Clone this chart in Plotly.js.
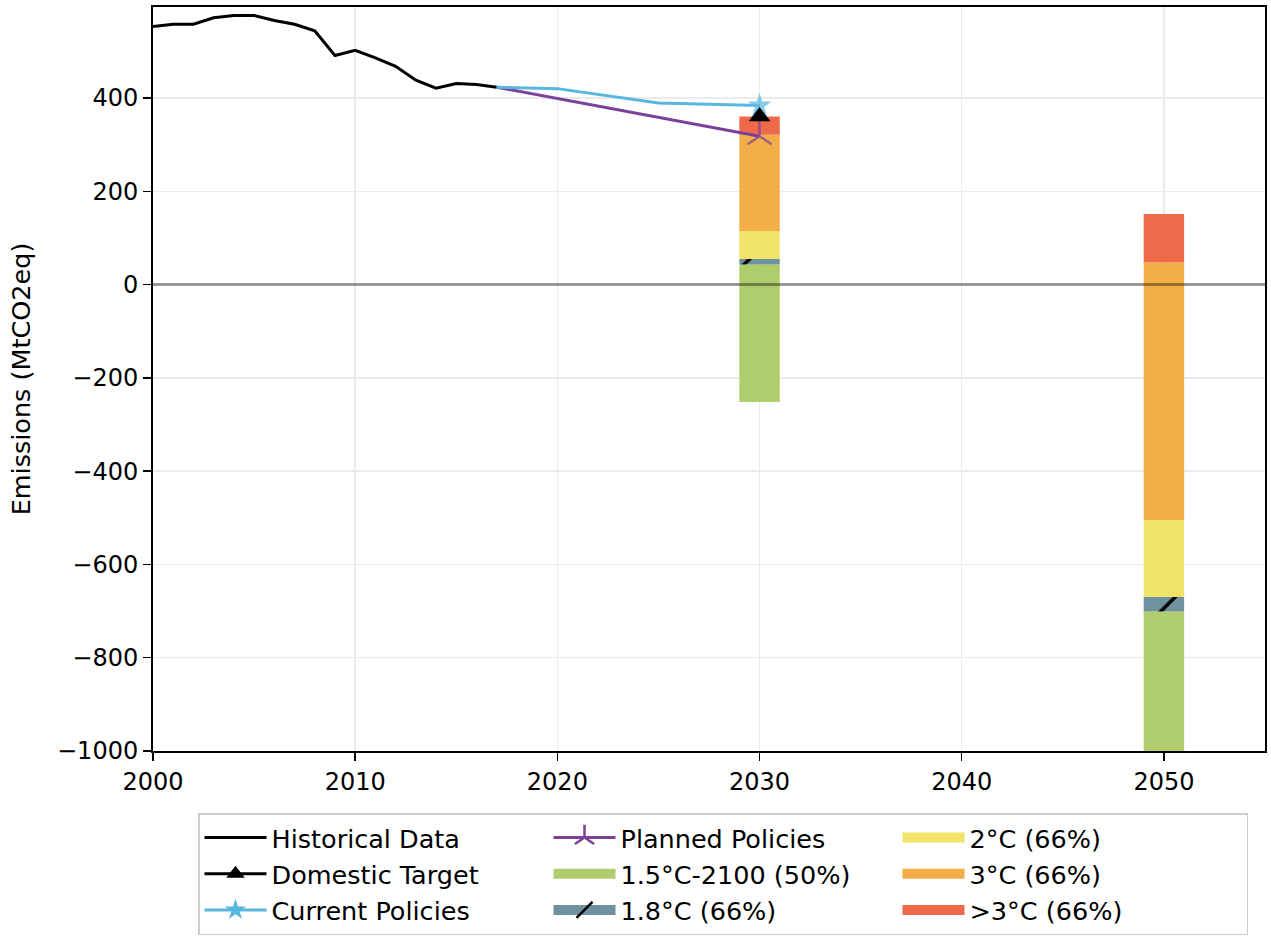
<!DOCTYPE html>
<html>
<head>
<meta charset="utf-8">
<script src="https://cdn.plot.ly/plotly-3.0.1.min.js"></script>
<style>html,body{margin:0;padding:0;background:#fff;}#chart{width:1271px;height:936px;}</style>
</head>
<body>
<div id="chart"></div>
<script>
// ---- data ----
const histYears = [2000,2001,2002,2003,2004,2005,2006,2007,2008,2009,2010,2011,2012,2013,2014,2015,2016,2017];
const histValues = [553,558,558,572,577,577,566,558,544,491,502,486,468,438,421,431,429,423];

const currentYears = [2017,2020,2025,2030];
const currentValues = [423,420,389,384];

const plannedYears = [2017,2030];
const plannedValues = [423,318];

const targetYears = [2030];
const targetValues = [360];

const barYears = [2030,2050];
// lower / upper bounds of each range band
const b15Low  = [-252,-1060];
const b15High = [43,-701];
const b18Low  = [43,-701];
const b18High = [55,-670];
const b2Low   = [55,-670];
const b2High  = [115,-505];
const b3Low   = [115,-505];
const b3High  = [321,47];
const bgt3Low = [321,47];
const bgt3High= [360,151];

const xTicks = [2000,2010,2020,2030,2040,2050];
const yTicks = [-1000,-800,-600,-400,-200,0,200,400];

// ---- styles ----
const FONT = 'DejaVu Sans, sans-serif';
const C_GREEN='#afcd6c', C_BLUE='#70919e', C_YEL='#f1e36a', C_ORA='#f2ae47', C_RED='#ef6a4a';
const C_CUR='#57b7de', C_PLAN='#7b4199';

function band(lo, hi, color, pattern) {
  const t = {
    type:'bar', x:barYears, showlegend:false,
    base: lo, y: hi.map((v,i)=>v-lo[i]),
    width: 2,
    marker:{color:color, line:{width:0}},
    hoverinfo:'skip'
  };
  if (pattern) t.marker.pattern = pattern;
  return t;
}
// legend-only entries (no data drawn)
function patchKey(name, color, rank, slash) {
  const t = {type:'scatter', mode: slash ? 'lines+markers' : 'lines', name:name,
    x:[null], y:[null], legendrank:rank, line:{color:color, width:22}, hoverinfo:'skip'};
  if (slash) t.marker = {symbol:'line-ne', size:18, color:'#000', line:{color:'#000', width:2.5}};
  return t;
}

const traces = [
  band(b15Low, b15High, C_GREEN),
  band(b18Low, b18High, C_BLUE, {shape:'/', fgcolor:'#000', bgcolor:C_BLUE, size:30, solidity:0.12}),
  band(b2Low, b2High, C_YEL),
  band(b3Low, b3High, C_ORA),
  band(bgt3Low, bgt3High, C_RED),
  {type:'scatter', mode:'lines', name:'Historical Data', x:histYears, y:histValues,
   line:{color:'#000', width:3}, legendrank:1},
  {type:'scatter', mode:'lines+markers', x:plannedYears, y:plannedValues, showlegend:false,
   line:{color:C_PLAN, width:3},
   marker:{symbol:'y-up', size:plannedYears.map((y,i)=>i===plannedYears.length-1?20:0), color:C_PLAN, line:{color:C_PLAN, width:2.5}}},
  {type:'scatter', mode:'lines+markers', x:currentYears, y:currentValues, showlegend:false,
   line:{color:C_CUR, width:3},
   marker:{symbol:'star', size:currentYears.map((y,i)=>i===currentYears.length-1?18:0), color:C_CUR, line:{width:0}}},
  {type:'scatter', mode:'lines+markers', name:'Domestic Target', x:targetYears, y:targetValues,
   line:{color:'#000', width:3}, legendrank:4,
   marker:{symbol:'triangle-up', size:19, color:'#000'}},
  // legend keys
  {type:'scatter', mode:'lines+markers', name:'Planned Policies', x:[null], y:[null], legendrank:2,
   line:{color:C_PLAN, width:3}, marker:{symbol:'y-up', size:18, color:C_PLAN, line:{color:C_PLAN, width:2.5}}},
  {type:'scatter', mode:'lines+markers', name:'Current Policies', x:[null], y:[null], legendrank:7,
   line:{color:C_CUR, width:3}, marker:{symbol:'star', size:16, color:C_CUR, line:{width:0}}},
  patchKey('2°C (66%)', C_YEL, 3),
  patchKey('1.5°C-2100 (50%)', C_GREEN, 5),
  patchKey('3°C (66%)', C_ORA, 6),
  patchKey('1.8°C (66%)', C_BLUE, 8, true),
  patchKey('>3°C (66%)', C_RED, 9)
];

const layout = {
  width:1271, height:936,
  paper_bgcolor:'#fff', plot_bgcolor:'#fff',
  margin:{l:153, r:6, t:7, b:185},
  font:{family:FONT, size:24, color:'#000'},
  showlegend:true,
  barmode:'overlay',
  xaxis:{
    range:[2000,2055], tickvals:xTicks, ticktext:xTicks.map(String),
    showgrid:true, gridcolor:'#ebebeb', gridwidth:1.5,
    zeroline:false, showline:true, linecolor:'#000', linewidth:2, mirror:true,
    ticks:'outside', ticklen:8, tickwidth:1.5, tickcolor:'#000',
    tickfont:{family:FONT, size:24, color:'#000'}
  },
  yaxis:{
    range:[-1000,595], tickvals:yTicks, ticktext:yTicks.map(v=>v<0?'\u2212'+Math.abs(v):String(v)),
    showgrid:true, gridcolor:'#ebebeb', gridwidth:1.5,
    zeroline:false, showline:true, linecolor:'#000', linewidth:2, mirror:true,
    ticks:'outside', ticklen:8, tickwidth:1.5, tickcolor:'#000',
    tickfont:{family:FONT, size:24, color:'#000'},
    title:{text:'Emissions (MtCO2eq)', font:{family:FONT, size:25.5, color:'#000'}, standoff:19}
  },
  shapes:[
    {type:'line', xref:'paper', x0:0, x1:1, yref:'y', y0:0, y1:0, layer:'above',
     line:{color:'rgba(0,0,0,0.38)', width:3}}
  ],
  legend:{
    orientation:'h', xref:'container', x:198/1271, xanchor:'left',
    yref:'container', y:1-813/936, yanchor:'top',
    itemwidth:62, entrywidth:272, traceorder:'normal',
    bgcolor:'#fff', bordercolor:'#cccccc', borderwidth:1.5,
    font:{family:FONT, size:25.5, color:'#000'}
  }
};

Plotly.newPlot('chart', traces, layout, {staticPlot:true, displayModeBar:false});
</script>
</body>
</html>
